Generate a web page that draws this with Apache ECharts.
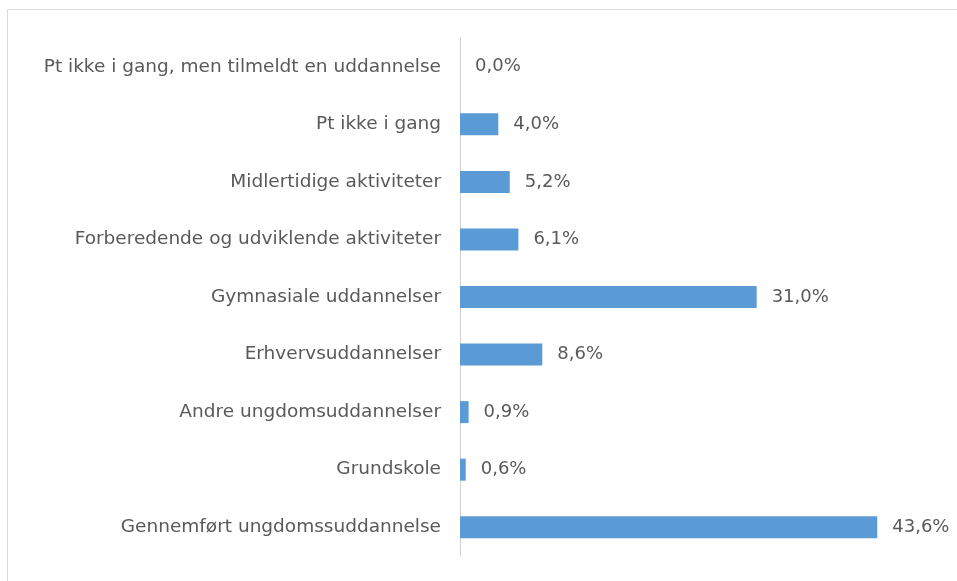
<!DOCTYPE html>
<html>
<head>
<meta charset="utf-8">
<script src="https://cdn.jsdelivr.net/npm/echarts@6/dist/echarts.min.js"></script>
<style>
  html, body { margin: 0; padding: 0; background: #fff; }
  #chart { width: 957px; height: 581px; }
</style>
</head>
<body>
<div id="chart"></div>
<script>
// categories listed bottom to top (category axis on y starts at bottom)
const categories = [
    'Gennemført ungdomssuddannelse',
    'Grundskole',
    'Andre ungdomsuddannelser',
    'Erhvervsuddannelser',
    'Gymnasiale uddannelser',
    'Forberedende og udviklende aktiviteter',
    'Midlertidige aktiviteter',
    'Pt ikke i gang',
    'Pt ikke i gang, men tilmeldt en uddannelse',
];
const shares = [43.6, 0.6, 0.9, 8.6, 31.0, 6.1, 5.2, 4.0, 0.0];

const textColor = '#595959';
const fontFamily = '"DejaVu Sans", sans-serif';

const chart = echarts.init(document.getElementById('chart'));
chart.setOption({
    animation: false,
    graphic: [{
        type: 'rect',
        shape: { x: 7.5, y: 9.5, width: 1000, height: 1000 },
        style: { fill: 'none', stroke: '#d9d9d9', lineWidth: 1 },
        silent: true,
    }],
    grid: { left: 460, top: 38, width: 478.5, height: 518, containLabel: false },
    xAxis: {
        type: 'value',
        min: 0,
        max: 50,
        show: false,
    },
    yAxis: {
        type: 'category',
        data: categories,
        axisLine: { show: true, lineStyle: { color: '#d0d0d0', width: 1 } },
        axisTick: { show: false },
        axisLabel: {
            color: textColor,
            fontFamily: fontFamily,
            fontSize: 18.5,
            margin: 19,
        },
    },
    series: [{
        type: 'bar',
        data: shares,
        barWidth: 22,
        itemStyle: { color: '#5b9bd5' },
        label: {
            show: true,
            position: 'right',
            distance: 15,
            color: textColor,
            fontFamily: fontFamily,
            fontSize: 18,
            formatter: (p) => p.value.toFixed(1).replace('.', ',') + '%',
        },
    }],
});
</script>
</body>
</html>
